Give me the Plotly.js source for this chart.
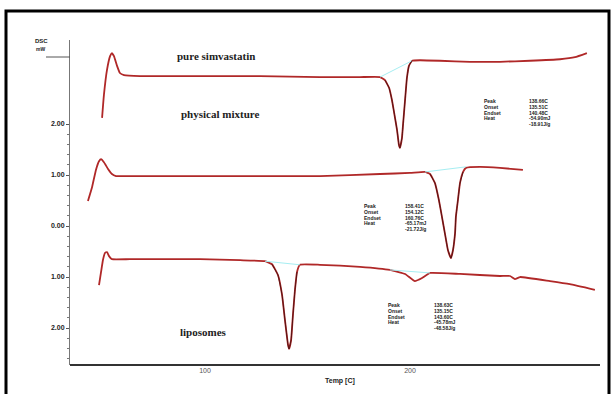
<!DOCTYPE html>
<html>
<head>
<meta charset="utf-8">
<script src="https://cdn.plot.ly/plotly-3.0.1.min.js"></script>
<style>html,body{margin:0;padding:0;background:#fff;}#chart{width:613px;height:394px;}</style>
</head>
<body>
<div id="chart"></div>
<script>
// ---- data (Temp [C], DSC mW) ----
const tempPure = [49.8,50.7,52.2,53.7,54.6,55.6,57.1,58.5,60.5,68.3,97.6,126.8,156.1,175.6,185.4,187.8,189.8,191.2,192.7,193.7,194.6,195.1,196.1,196.6,197.6,198.5,199.5,201.0,204.9,214.6,229.3,243.9,258.5,273.2,280.5,286.3];
const dscPure  = [2.12,2.57,3.06,3.33,3.39,3.33,3.14,3.00,2.96,2.94,2.94,2.94,2.92,2.92,2.92,2.86,2.71,2.47,2.12,1.88,1.59,1.53,1.73,1.98,2.47,2.90,3.14,3.24,3.25,3.24,3.22,3.22,3.24,3.27,3.31,3.39];

const tempMix = [42.9,44.9,46.8,48.3,49.3,50.7,52.7,54.6,56.6,68.3,97.6,126.8,156.1,185.4,200.0,207.3,209.8,212.2,214.1,215.6,217.1,218.5,220.0,221.0,222.0,222.4,223.4,224.4,225.9,227.3,234.1,243.9,255.1];
const dscMix  = [0.49,0.76,1.10,1.27,1.31,1.25,1.12,1.02,0.98,0.98,0.98,0.98,0.98,1.02,1.04,1.06,1.02,0.84,0.51,0.18,-0.16,-0.47,-0.63,-0.47,-0.14,0.18,0.51,0.84,1.06,1.14,1.16,1.14,1.10];

const tempLipo = [48.3,49.3,50.2,51.2,52.2,53.2,54.6,63.4,97.6,117.1,129.3,132.7,135.6,137.6,139.0,140.5,141.0,142.0,142.9,143.9,144.9,146.3,156.1,175.6,190.2,197.6,202.4,205.9,209.8,224.4,243.9,248.8,251.2,253.7,268.3,278.0,290.2];
const dscLipo  = [-1.16,-0.90,-0.67,-0.53,-0.51,-0.59,-0.65,-0.65,-0.65,-0.67,-0.69,-0.75,-0.96,-1.35,-1.84,-2.33,-2.41,-2.24,-1.75,-1.25,-0.90,-0.76,-0.76,-0.80,-0.86,-0.94,-1.08,-1.02,-0.92,-0.94,-0.98,-0.98,-1.04,-1.00,-1.08,-1.14,-1.25];

const baseTemp = [[185.4,201.0],[207.3,227.3],[129.3,146.3],[190.2,209.8]];
const baseDsc  = [[2.92,3.24],[1.06,1.16],[-0.69,-0.76],[-0.86,-0.92]];

const yTickVals = [2,1,0,-1,-2];
const yTickText = ["2.00","1.00","0.00","1.00","2.00"];
const xTickVals = [100,200];
const xTickText = ["100","200"];

const sampleNames = ["pure simvastatin","physical mixture","liposomes"];
const resultLabels = ["Peak","Onset","Endset","Heat",""];
const resultsPure = ["138.66C","135.51C","140.48C","-54.90mJ","-18.91J/g"];
const resultsMix  = ["158.41C","154.12C","160.76C","-65.17mJ","-21.72J/g"];
const resultsLipo = ["138.63C","135.15C","143.60C","-45.78mJ","-48.58J/g"];

// ---- helpers (layout positions in pixels -> paper) ----
const L=70, R=600, T=40, B=365;
const px = x => (x-L)/(R-L);
const py = y => (B-y)/(B-T);

const red = '#b02828';
const traces = [];
[[tempPure,dscPure],[tempMix,dscMix],[tempLipo,dscLipo]].forEach(([x,y])=>{
  traces.push({x:x,y:y,type:'scatter',mode:'lines',line:{color:red,width:1.8,shape:'spline',smoothing:0.35},hoverinfo:'skip'});
});
baseTemp.forEach((bt,i)=>{
  traces.push({x:bt,y:baseDsc[i],type:'scatter',mode:'lines',line:{color:'#a6eef2',width:1},hoverinfo:'skip'});
});
// dark core in the dips
[[tempPure,dscPure,15,28],[tempMix,dscMix,16,29],[tempLipo,dscLipo,11,21]].forEach(([x,y,a,b])=>{
  traces.push({x:x.slice(a,b),y:y.slice(a,b),type:'scatter',mode:'lines',line:{color:'#2a0a0a',width:0.7,shape:'spline',smoothing:0.35},hoverinfo:'skip'});
});

const ann = [];
const nameFont = {family:'Liberation Serif, DejaVu Serif, serif',size:11,color:'#222'};
function addText(x,y,text,font,xa){
  ann.push({xref:'paper',yref:'paper',x:px(x),y:py(y),xanchor:xa||'center',yanchor:'middle',text:text,showarrow:false,font:font});
}
addText(216,56,'<b>'+sampleNames[0]+'</b>',nameFont);
addText(220,114,'<b>'+sampleNames[1]+'</b>',nameFont);
addText(203,332,'<b>'+sampleNames[2]+'</b>',nameFont);

const smallFont = {family:'Liberation Sans, Arial, sans-serif',size:5,color:'#222'};
function block(lx,vx,y0,vals){
  for(let i=0;i<5;i++){
    if(resultLabels[i]) addText(lx,y0+i*5.8,'<b>'+resultLabels[i]+'</b>',smallFont,'left');
    addText(vx,y0+i*5.8,'<b>'+vals[i]+'</b>',smallFont,'left');
  }
}
block(482,527,101,resultsPure);
block(362,403,206,resultsMix);
block(386,432,305,resultsLipo);

addText(340,381,'<b>Temp [C]</b>',{family:'Liberation Sans, Arial, sans-serif',size:7,color:'#222'});
addText(41,41,'<b>DSC</b>',{family:'Liberation Sans, Arial, sans-serif',size:6,color:'#222'});
addText(40,49,'<b>mW</b>',{family:'Liberation Sans, Arial, sans-serif',size:5,color:'#222'});

const minorVals = [];
for(let v=-2.6; v<=2.01; v+=0.2) minorVals.push(Math.round(v*10)/10);

const layout = {
  width:613,height:394,
  margin:{l:L,r:613-R,t:T,b:394-B},
  paper_bgcolor:'#fff',plot_bgcolor:'#fff',
  showlegend:false,
  xaxis:{range:[34.15,292.7],showgrid:false,zeroline:false,showline:false,
    tickmode:'array',tickvals:xTickVals,ticktext:xTickText,ticks:'',
    tickfont:{family:'Liberation Sans, Arial, sans-serif',size:7,color:'#555'}},
  yaxis:{range:[-2.725,3.647],showgrid:false,zeroline:false,showline:true,linecolor:'#777',linewidth:1,
    tickmode:'array',tickvals:yTickVals,ticktext:yTickText,ticks:'outside',ticklen:3,tickcolor:'#555',
    tickfont:{family:'Liberation Sans, Arial, sans-serif',size:7,color:'#222',weight:'bold'},
    minor:{tickmode:'array',tickvals:minorVals,ticks:'outside',ticklen:2,tickcolor:'#777'}},
  annotations:ann,
  shapes:[
    {type:'line',xref:'paper',yref:'paper',x0:0,x1:1,y0:0,y1:0,line:{color:'#333',width:2}},
    {type:'line',xref:'paper',yref:'paper',x0:px(46),x1:px(70),y0:py(57),y1:py(57),line:{color:'#555',width:1}},
    {type:'rect',xref:'paper',yref:'paper',x0:px(6),x1:px(609),y0:py(11),y1:py(396),line:{color:'#000',width:3},fillcolor:'rgba(0,0,0,0)'}
  ]
};
Plotly.newPlot('chart',traces,layout,{staticPlot:true,displayModeBar:false});
</script>
</body>
</html>
